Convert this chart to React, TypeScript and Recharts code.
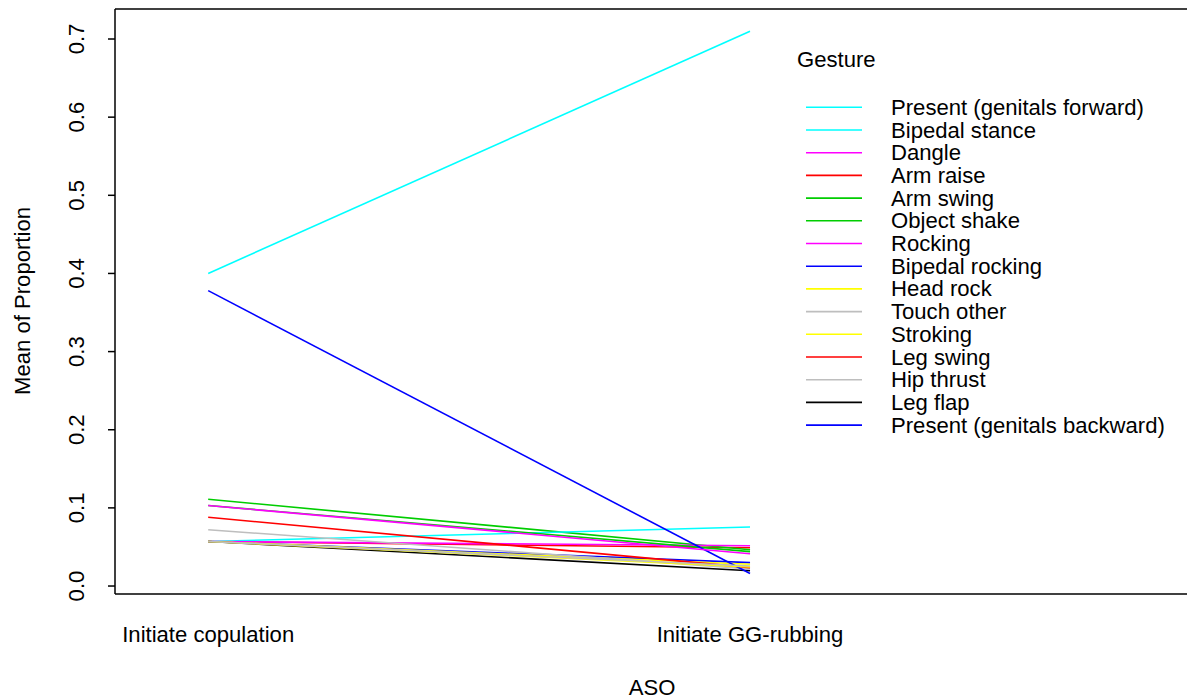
import { LineChart, Line, XAxis, YAxis, Legend, ReferenceLine } from 'recharts';

// ASO levels on the x axis
const categories = ['Initiate copulation', 'Initiate GG-rubbing'];

// gesture levels, in factor (alphabetical) order, which is also draw order
const gestures = [
  'Arm raise',
  'Arm swing',
  'Bipedal rocking',
  'Bipedal stance',
  'Dangle',
  'Head rock',
  'Hip thrust',
  'Leg flap',
  'Leg swing',
  'Object shake',
  'Present (genitals backward)',
  'Present (genitals forward)',
  'Rocking',
  'Stroking',
  'Touch other',
];

// mean proportion per gesture for each ASO level
const copulation = [0.057, 0.111, 0.057, 0.057, 0.057, 0.057, 0.072, 0.057, 0.088, 0.103, 0.378, 0.4, 0.103, 0.057, 0.057];
const ggRubbing = [0.049, 0.0465, 0.03, 0.0755, 0.0516, 0.0278, 0.022, 0.0196, 0.0235, 0.044, 0.016, 0.71, 0.0413, 0.0245, 0.0256];

// base R palette recycled over the levels
const lineColors = [
  '#FF0000', '#00CD00', '#0000FF', '#00FFFF', '#FF00FF', '#FFFF00', '#BEBEBE', '#000000',
  '#FF0000', '#00CD00', '#0000FF', '#00FFFF', '#FF00FF', '#FFFF00', '#BEBEBE',
];

const yTicks = [0, 0.1, 0.2, 0.3, 0.4, 0.5, 0.6, 0.7];

const FONT = '"Liberation Sans", Arial, Helvetica, sans-serif';
const FS = 22.1;
const Y_MIN = -0.0102;
const Y_MAX = 0.7384;

const data = categories.map((aso, i) => {
  const row: Record<string, number | string> = { pos: i + 1, aso };
  gestures.forEach((_, j) => {
    row[`g${j}`] = i === 0 ? copulation[j] : ggRubbing[j];
  });
  return row;
});

// legend lists gestures by their value at the last level, highest first
const legendOrder = gestures.map((_, j) => j).sort((a, b) => ggRubbing[b] - ggRubbing[a]);

const YTick = ({ y, payload }: any) => (
  <text
    x={77}
    y={y}
    transform={`rotate(-90 77 ${y})`}
    textAnchor="middle"
    dominantBaseline="central"
    fontFamily={FONT}
    fontSize={FS}
    fill="#000"
  >
    {payload.value.toFixed(1)}
  </text>
);

const XTick = ({ x, payload }: any) => (
  <text x={x} y={634} textAnchor="middle" dominantBaseline="central" fontFamily={FONT} fontSize={FS} fill="#000">
    {categories[payload.value - 1]}
  </text>
);

const GestureLegend = () => (
  <svg width={400} height={420} style={{ display: 'block' }}>
    <text x={7} y={19} dominantBaseline="central" fontFamily={FONT} fontSize={FS} fill="#000">
      Gesture
    </text>
    {legendOrder.map((j, i) => {
      const cy = 67.3 + i * 22.7;
      return (
        <g key={gestures[j]}>
          <line x1={16} x2={72} y1={cy} y2={cy} stroke={lineColors[j]} strokeWidth={1.6} />
          <text x={101} y={cy} dominantBaseline="central" fontFamily={FONT} fontSize={FS} fill="#000">
            {gestures[j]}
          </text>
        </g>
      );
    })}
  </svg>
);

export default function App() {
  return (
    <div
      style={{
        position: 'absolute',
        left: 0,
        top: 0,
        width: 1187,
        height: 698,
        overflow: 'hidden',
        background: '#fff',
      }}
    >
      <LineChart width={1200} height={698} data={data} margin={{ top: 9, right: 10, bottom: 44, left: 0 }}>
        <XAxis
          dataKey="pos"
          type="number"
          domain={[0.828, 2.812]}
          ticks={[1, 2]}
          tick={<XTick />}
          tickLine={false}
          axisLine={{ stroke: '#000', strokeWidth: 1.5 }}
          height={60}
          label={{
            content: () => (
              <text x={652} y={687} textAnchor="middle" dominantBaseline="central" fontFamily={FONT} fontSize={FS} fill="#000">
                ASO
              </text>
            ),
          }}
        />
        <YAxis
          type="number"
          domain={[Y_MIN, Y_MAX]}
          ticks={yTicks}
          tick={<YTick />}
          tickSize={7}
          tickLine={{ stroke: '#000', strokeWidth: 1.5 }}
          axisLine={{ stroke: '#000', strokeWidth: 1.5 }}
          width={115}
          label={{
            content: () => (
              <text
                x={22}
                y={301}
                transform="rotate(-90 22 301)"
                textAnchor="middle"
                dominantBaseline="central"
                fontFamily={FONT}
                fontSize={FS}
                fill="#000"
              >
                Mean of Proportion
              </text>
            ),
          }}
        />
        <ReferenceLine y={Y_MAX} stroke="#000" strokeWidth={1.5} />
        {gestures.map((g, j) => (
          <Line
            key={g}
            dataKey={`g${j}`}
            name={g}
            type="linear"
            stroke={lineColors[j]}
            strokeWidth={1.6}
            dot={false}
            activeDot={false}
            isAnimationActive={false}
          />
        ))}
        <Legend
          verticalAlign="middle"
          align="center"
          wrapperStyle={{ left: 790, top: 40, width: 400 }}
          content={() => <GestureLegend />}
        />
      </LineChart>
    </div>
  );
}
